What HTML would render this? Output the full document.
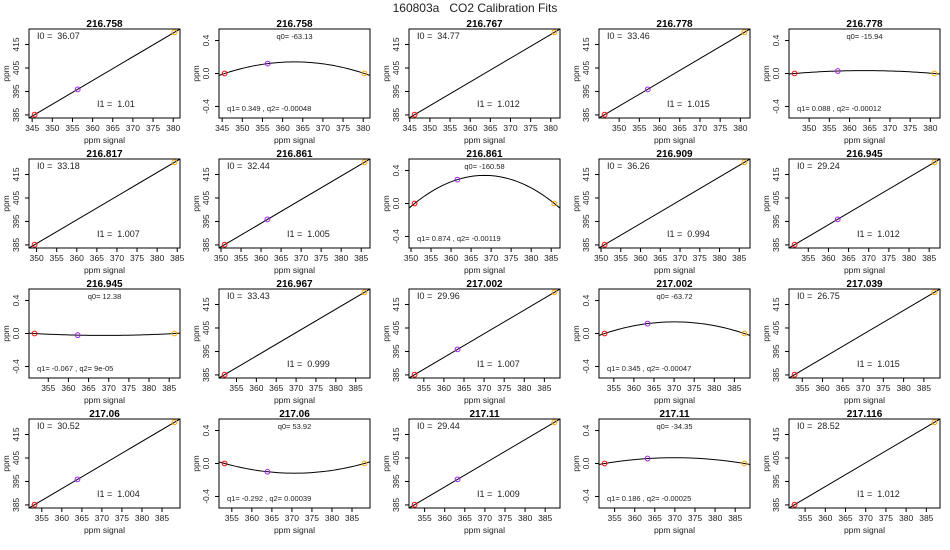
<!DOCTYPE html>
<html><head><meta charset="utf-8"><style>
html,body{margin:0;padding:0;background:#fff;}
svg{display:block;font-family:"Liberation Sans",sans-serif;}
svg text{white-space:pre;}
</style></head><body>
<svg id="chart" width="950" height="550" viewBox="0 0 950 550">
<text x="475" y="12" text-anchor="middle" font-size="12" fill="#222">160803a   CO2 Calibration Fits</text>
</svg>
<script>
// panel data
const panelTitles = ["216.758","216.758","216.767","216.778","216.778","216.817","216.861","216.861","216.909","216.945","216.945","216.967","217.002","217.002","217.039","217.06","217.06","217.11","217.11","217.116"];
const panelTypes = ["lin","quad","lin","lin","quad","lin","lin","quad","lin","lin","quad","lin","lin","quad","lin","lin","quad","lin","quad","lin"];
const signalRed = [345.6,345.6,346.2,346.4,346.4,349.5,350.9,350.9,350.9,351.6,351.6,352.0,352.7,352.7,353.1,353.2,353.2,352.5,352.5,352.4];
const signalPurple = [356.3,356.3,null,357.1,357.1,null,361.6,361.6,null,362.3,362.3,null,363.4,363.4,null,363.9,363.9,363.2,363.2,null];
const signalOrange = [380.3,380.3,380.9,381.0,381.0,384.3,385.8,385.8,386.3,386.3,386.3,387.2,387.5,387.5,387.6,388.1,388.1,387.3,387.3,387.0];
const ppmStd = [385.1,395.9,420.2];
const residPurple = [null,0.12,null,null,0.03,null,null,0.29,null,null,-0.02,null,null,0.12,null,null,-0.10,null,0.06,null];
const I0 = [36.07,null,34.77,33.46,null,33.18,32.44,null,36.26,29.24,null,33.43,29.96,null,26.75,30.52,null,29.44,null,28.52];
const I1 = ["1.01",null,"1.012","1.015",null,"1.007","1.005",null,"0.994","1.012",null,"0.999","1.007",null,"1.015","1.004",null,"1.009",null,"1.012"];
const q0 = [null,"-63.13",null,null,"-15.94",null,null,"-160.58",null,null,"12.38",null,null,"-63.72",null,null,"53.92",null,"-34.35",null];
const q1 = [null,"0.349",null,null,"0.088",null,null,"0.874",null,null,"-0.067",null,null,"0.345",null,null,"-0.292",null,"0.186",null];
const q2 = [null,"-0.00048",null,null,"-0.00012",null,null,"-0.00119",null,null,"9e-05",null,null,"-0.00047",null,null,"0.00039",null,"-0.00025",null];
const linYTicks = [385,395,405,415];
const quadYTicks = [-0.4,0.0,0.4];

const NS="http://www.w3.org/2000/svg";
const svg=document.getElementById('chart');
function mk(tag,attrs,parent){const e=document.createElementNS(NS,tag);for(const k in attrs)e.setAttribute(k,attrs[k]);(parent||svg).appendChild(e);return e;}

const BL=29,BR=180,BT=29,BB=118;
for(let i=0;i<20;i++){
  const c=i%5,r=Math.floor(i/5),ox=190*c,oy=130*r;
  const g=mk('g',{transform:`translate(${ox},${oy})`});
  
  
  const isLin=panelTypes[i]==='lin';
  const xs=[signalRed[i],signalPurple[i],signalOrange[i]];
  const ys=isLin?ppmStd.slice():[0,residPurple[i],0];
  const xmin=signalRed[i],xmax=signalOrange[i],xr=xmax-xmin;
  const x0=xmin-0.04*xr,x1=xmax+0.04*xr;
  let y0,y1;
  if(isLin){const d=ppmStd[2]-ppmStd[0];y0=ppmStd[0]-0.04*d;y1=ppmStd[2]+0.04*d;}else{y0=-0.54;y1=0.54;}
  const sx=v=>BL+(v-x0)/(x1-x0)*(BR-BL);
  const sy=v=>BB-(v-y0)/(y1-y0)*(BB-BT);
  const cid='clip'+i;
  const cp=mk('clipPath',{id:cid},g);mk('rect',{x:BL,y:BT,width:BR-BL,height:BB-BT},cp);
  const t=mk('text',{x:(BL+BR)/2,y:27,'text-anchor':'middle','font-size':10,'font-weight':'bold',fill:'#000'},g);t.textContent=panelTitles[i];
  
  
  const box=mk('rect',{x:BL,y:BT,width:BR-BL,height:BB-BT,fill:'none',stroke:'#000','stroke-width':1},g);
  
  
  for(let v=Math.ceil(x0/5)*5;v<=x1;v+=5){
    const X=sx(v);mk('line',{x1:X,y1:BB,x2:X,y2:BB+4,stroke:'#000'},g);
    const tl=mk('text',{x:X,y:BB+13,'text-anchor':'middle','font-size':8.5,fill:'#222'},g);tl.textContent=v;
    
    
  }
  const xl=mk('text',{x:(BL+BR)/2,y:BB+25,'text-anchor':'middle','font-size':8.5,fill:'#222'},g);xl.textContent='ppm signal';
  
  
  const yt=isLin?linYTicks:quadYTicks;
  yt.forEach(v=>{const Y=sy(v);mk('line',{x1:BL-4,y1:Y,x2:BL,y2:Y,stroke:'#000'},g);
    const tl=mk('text',{x:19,y:Y,'text-anchor':'middle','font-size':8.5,fill:'#222',transform:`rotate(-90 19 ${Y})`},g);
    tl.textContent=isLin?v:v.toFixed(1);
    
    });
  const yl=mk('text',{x:9,y:(BT+BB)/2,'text-anchor':'middle','font-size':8.5,fill:'#222',transform:`rotate(-90 9 ${(BT+BB)/2})`},g);yl.textContent='ppm';
  
  
  let d='';
  if(isLin){
    const sl=(ys[2]-ys[0])/(xs[2]-xs[0]);
    const f=x=>ys[0]+sl*(x-xs[0]);
    d=`M${sx(x0-1)},${sy(f(x0-1))}L${sx(x1+1)},${sy(f(x1+1))}`;
  }else{
    const a=xs[0],b=xs[1],cc=xs[2];
    const f=x=>ys[1]*(x-a)*(x-cc)/((b-a)*(b-cc));
    for(let k=0;k<=60;k++){const x=x0-1+(x1-x0+2)*k/60;d+=(k?'L':'M')+sx(x).toFixed(2)+','+sy(f(x)).toFixed(2);}
  }
  const fl=mk('path',{d:d,fill:'none',stroke:'#000','stroke-width':1,'clip-path':`url(#${cid})`},g);
  
  
  const cols=['#ff0000','#a020f0','#ffa500'];
  for(let k=0;k<3;k++){ if(xs[k]==null||ys[k]==null)continue;
    const p=mk('circle',{cx:sx(xs[k]),cy:sy(ys[k]),r:2.4,fill:'none',stroke:cols[k],'stroke-width':1},g);
    
    }
  if(isLin){
    const a1=mk('text',{x:37,y:39,'font-size':9,fill:'#222'},g);a1.textContent='I0 =  '+I0[i].toFixed(2);
    
    
    const a2=mk('text',{x:97,y:107,'font-size':9,fill:'#222'},g);a2.textContent='I1 =  '+I1[i];
    
    
  }else{
    const a1=mk('text',{x:(BL+BR)/2,y:39,'text-anchor':'middle','font-size':7.5,fill:'#222'},g);a1.textContent='q0= '+q0[i];
    
    
    const a2=mk('text',{x:37,y:111,'font-size':7.5,fill:'#222'},g);a2.textContent='q1= '+q1[i]+' , q2= '+q2[i];
    
    
  }
}
</script>
</body></html>
